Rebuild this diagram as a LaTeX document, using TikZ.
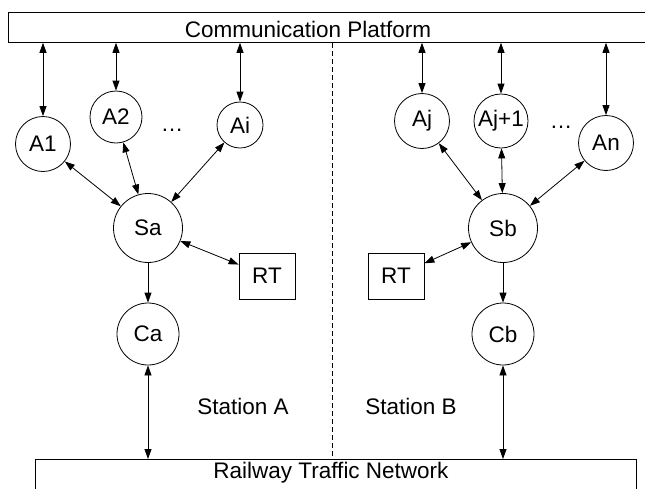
\documentclass[tikz,border=0pt]{standalone}
\usepackage{fontspec}
\setmainfont{Liberation Sans}
\usetikzlibrary{arrows.meta}
\usetikzlibrary{positioning}
\tikzset{dbl/.style = {{Triangle[length=10pt, width=7pt]}-{Triangle[length=10pt, width=7pt]}}}
\tikzset{sgl/.style = {-{Triangle[length=10pt, width=7pt]}}}
\tikzset{circ/.style = {draw, circle, inner sep = 0, minimum size = #1}}
\tikzset{rtbox/.style = {draw, rectangle, minimum width = 56, minimum height = 46}}
\begin{document}
\begin{tikzpicture}[x=1pt, y=-1pt, line width=0.8pt, font=\fontsize{22.5}{27}\selectfont]
      \useasboundingbox (0, 0) rectangle (645, 488);

      % platform and network
      \node (comm) at (8, 12) [draw, anchor=north west, minimum width=660, minimum height=30] {};
      \node (net) at (35, 459) [draw, anchor=north west, minimum width=601, minimum height=45] {};
      \node (commtext) at (308, 37) [anchor=base] {Communication Platform};
      \node (nettext) at (331, 478) [anchor=base] {Railway Traffic Network};

      % station A
      \node (a1) at (43, 144) [circ=55] {A1};
      \node (a2) at (116, 117) [circ=52] {A2};
      \node (ai) at (240, 125) [circ=46] {Ai};
      \node (dotsa) at (172, 131) [anchor=base] {…};
      \node (sa) at (148, 228) [circ=69] {Sa};
      \node (rta) at (267, 276) [rtbox] {RT};
      \node (ca) at (148, 334) [circ=62] {Ca};
      \node (sta) at (243, 414) [anchor=base] {Station A};

      % station B
      \node (aj) at (422, 121) [circ=55] {Aj};
      \node (ajj) at (501, 121) [circ=54] {Aj+1};
      \node (an) at (606, 143) [circ=55] {An};
      \node (dotsb) at (561, 128) [anchor=base] {…};
      \node (sb) at (503, 228) [circ=69] {Sb};
      \node (rtb) at (396, 276) [rtbox] {RT};
      \node (cb) at (503, 334) [circ=62] {Cb};
      \node (stb) at (411, 414) [anchor=base] {Station B};

      \coordinate (split) at (332, 250);
      \draw [dash pattern=on 5pt off 3pt, line width=0.6pt] (split |- comm.south) -- (split |- net.north);

      \foreach \n in {a1, a2, ai, aj, ajj, an}
        \draw [dbl] (\n |- comm.south) -- (\n);
      \foreach \n in {a1, a2, ai, rta}
        \draw [dbl] (\n) -- (sa);
      \foreach \n in {aj, ajj, an, rtb}
        \draw [dbl] (\n) -- (sb);
      \draw [sgl] (sa) -- (ca);
      \draw [sgl] (sb) -- (cb);
      \draw [dbl] (ca) -- (ca |- net.north);
      \draw [dbl] (cb) -- (cb |- net.north);
\end{tikzpicture}
\end{document}
